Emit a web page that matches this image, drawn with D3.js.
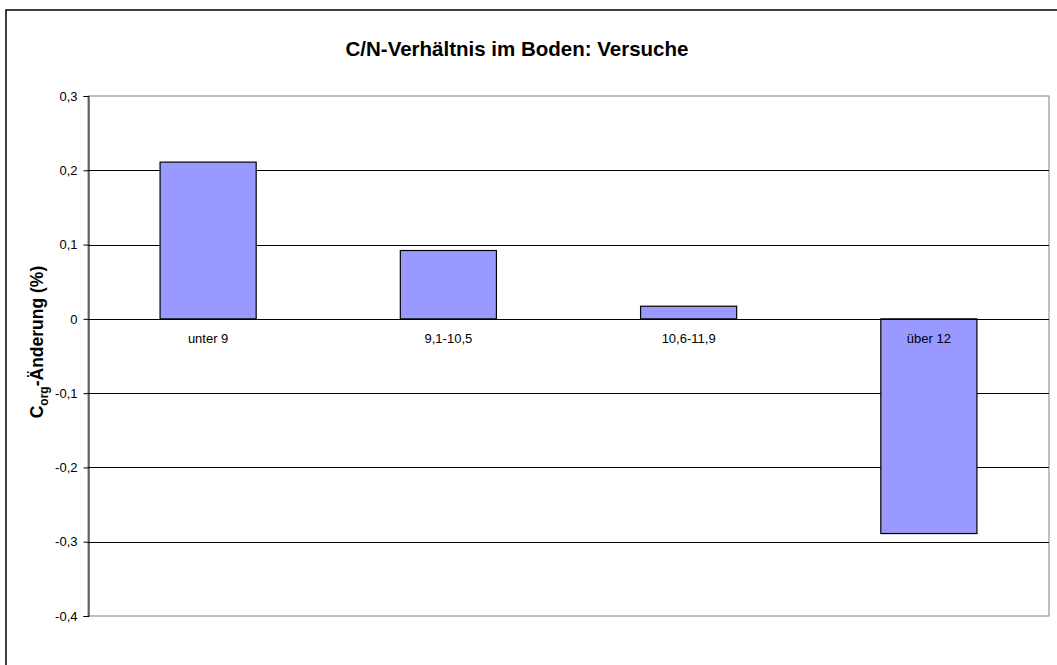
<!DOCTYPE html>
<html>
<head>
<meta charset="utf-8">
<script src="https://cdn.jsdelivr.net/npm/d3@7"></script>
<style>
  body { margin: 0; background: #fff; }
  svg text { font-family: Arial, "Liberation Sans", sans-serif; fill: #000; }
</style>
</head>
<body>
<div id="chart"></div>
<script>
// chart data
var categories = ['unter 9', '9,1-10,5', '10,6-11,9', 'über 12'];
var values = [0.211, 0.092, 0.017, -0.289];
var yTicks = [0.3, 0.2, 0.1, 0, -0.1, -0.2, -0.3, -0.4];

var width = 1057, height = 665;
var plot = { left: 88, right: 1049, top: 96, bottom: 616 };

var svg = d3.select('#chart')
    .append('svg')
    .attr('width', width)
    .attr('height', height);

// outer chart frame (cut off at right and bottom like the original)
svg.append('rect')
    .attr('x', 6).attr('y', 10)
    .attr('width', 1100).attr('height', 700)
    .attr('fill', 'none')
    .attr('stroke', '#000')
    .attr('stroke-width', 1.5);

var x = d3.scaleBand()
    .domain(categories)
    .range([plot.left, plot.right])
    .paddingInner(0.6)
    .paddingOuter(0.3);

var y = d3.scaleLinear()
    .domain([-0.4, 0.3])
    .range([plot.bottom, plot.top]);

// excel style: comma decimals, plain "0"
var fmt = function(d) {
    if (d === 0) return '0';
    return d3.format('.1f')(d).replace('.', ',').replace('−', '-');
};

// plot area border
svg.append('rect')
    .attr('x', plot.left).attr('y', plot.top)
    .attr('width', plot.right - plot.left)
    .attr('height', plot.bottom - plot.top)
    .attr('fill', '#fff')
    .attr('stroke', '#808080')
    .attr('stroke-width', 1);

// gridlines
svg.append('g')
    .selectAll('line')
    .data(yTicks.filter(function(d) { return d !== 0.3 && d !== -0.4; }))
    .enter()
    .append('line')
    .attr('x1', plot.left).attr('x2', plot.right)
    .attr('y1', function(d) { return Math.round(y(d)) + 0.5; })
    .attr('y2', function(d) { return Math.round(y(d)) + 0.5; })
    .attr('stroke', '#000')
    .attr('stroke-width', 1);

// bars
svg.append('g')
    .selectAll('rect')
    .data(values)
    .enter()
    .append('rect')
    .attr('x', function(d, i) { return x(categories[i]); })
    .attr('y', function(d) { return y(Math.max(0, d)); })
    .attr('width', x.bandwidth())
    .attr('height', function(d) { return Math.abs(y(d) - y(0)); })
    .attr('fill', '#9999ff')
    .attr('stroke', '#000')
    .attr('stroke-width', 1.2);

// y axis
var yAxis = d3.axisLeft(y)
    .tickValues(yTicks)
    .tickSize(5)
    .tickPadding(6)
    .tickFormat(fmt);

var gy = svg.append('g')
    .attr('transform', 'translate(' + (plot.left + 0.5) + ',0)')
    .call(yAxis);
gy.select('.domain').attr('stroke', '#000');
gy.selectAll('.tick line').attr('stroke', '#000');
gy.selectAll('.tick text')
    .style('font-size', '13px')
    .attr('fill', '#000');

// zero line on top of everything
svg.append('line')
    .attr('x1', plot.left).attr('x2', plot.right)
    .attr('y1', Math.round(y(0)) + 0.5).attr('y2', Math.round(y(0)) + 0.5)
    .attr('stroke', '#000');

// category labels sit just under the zero line
svg.append('g')
    .selectAll('text')
    .data(categories)
    .enter()
    .append('text')
    .attr('x', function(d) { return x(d) + x.bandwidth() / 2; })
    .attr('y', y(0) + 24)
    .attr('text-anchor', 'middle')
    .style('font-size', '13px')
    .text(function(d) { return d; });

// title
svg.append('text')
    .attr('x', 517)
    .attr('y', 56)
    .attr('text-anchor', 'middle')
    .style('font-size', '20.5px')
    .style('font-weight', 'bold')
    .text('C/N-Verhältnis im Boden: Versuche');

// y axis title with subscript
var yt = svg.append('text')
    .attr('transform', 'translate(43,' + 342 + ') rotate(-90)')
    .attr('text-anchor', 'middle')
    .style('font-size', '17.5px')
    .style('font-weight', 'bold');
yt.append('tspan').text('C');
yt.append('tspan').attr('dy', 5).style('font-size', '12px').text('org');
yt.append('tspan').attr('dy', -5).text('-Änderung (%)');
</script>
</body>
</html>
